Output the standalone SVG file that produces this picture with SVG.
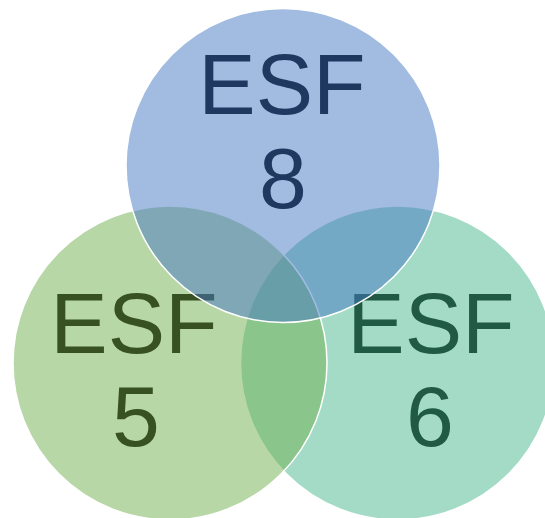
<svg xmlns="http://www.w3.org/2000/svg" width="545" height="518" viewBox="0 0 545 518">
  <style>
    .circle { fill-opacity: 0.5; stroke: #ffffff; stroke-width: 1.5; }
    .label { font-family: "Liberation Sans", Arial, sans-serif; font-size: 86px; text-anchor: middle; }
  </style>
  <rect width="545" height="518" fill="#ffffff"/>
  <g id="connectors"></g>
  <g id="esf6">
    <circle class="circle" cx="397.5" cy="363" r="157" fill="#47B78F"/>
    <text class="label" fill="#215A44"><tspan x="431" y="353">ESF</tspan><tspan x="430" y="446">6</tspan></text>
  </g>
  <g id="esf5">
    <circle class="circle" cx="170" cy="363" r="157" fill="#71AF4F"/>
    <text class="label" fill="#375123"><tspan x="134" y="353">ESF</tspan><tspan x="136" y="446">5</tspan></text>
  </g>
  <g id="esf8">
    <circle class="circle" cx="283" cy="165.5" r="157" fill="#4577C3"/>
    <text class="label" fill="#1F3860"><tspan x="282" y="114">ESF</tspan><tspan x="283" y="208">8</tspan></text>
  </g>
</svg>
